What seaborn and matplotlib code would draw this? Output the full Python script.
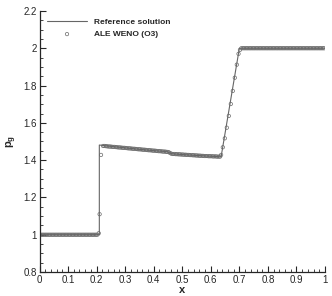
import numpy as np
import pandas as pd
import seaborn as sns
import matplotlib.pyplot as plt
from matplotlib.ticker import MultipleLocator

# reference solution (piecewise)
x_ref = [0.0, 0.2095, 0.2095, 0.25, 0.30, 0.35, 0.40, 0.45, 0.46, 0.50, 0.55, 0.60, 0.636, 0.700, 1.0]
y_ref = [1.0, 1.0, 1.481, 1.474, 1.466, 1.458, 1.451, 1.445, 1.435, 1.430, 1.425, 1.421, 1.418, 2.0, 2.0]

# ALE WENO (O3) cell values
y_left = [1.0] * 41
y_shock = [1.008, 1.11, 1.428]
x_shock = [0.2075, 0.2105, 0.2155]
y_mid1 = [1.476, 1.476, 1.475, 1.474, 1.473, 1.473, 1.472, 1.471, 1.471, 1.470,
          1.469, 1.468, 1.468, 1.467, 1.466, 1.466, 1.465, 1.464, 1.463, 1.463,
          1.462, 1.461, 1.461, 1.460, 1.459, 1.458, 1.458, 1.457, 1.456, 1.456,
          1.455, 1.454, 1.453, 1.453, 1.452, 1.451, 1.451, 1.450, 1.449, 1.448,
          1.448, 1.447, 1.446, 1.446, 1.445, 1.444, 1.443]
y_contact = [1.438, 1.434]
x_contact = [0.4575, 0.4625]
y_mid2 = [1.433, 1.433, 1.432, 1.432, 1.431, 1.431, 1.430, 1.430, 1.429, 1.429,
          1.428, 1.428, 1.427, 1.427, 1.426, 1.426, 1.425, 1.425, 1.424, 1.424,
          1.423, 1.423, 1.422, 1.422, 1.422, 1.421, 1.421, 1.421, 1.420, 1.420,
          1.420, 1.419, 1.419, 1.419]
x_ramp = [0.636, 0.642, 0.649, 0.656, 0.663, 0.670, 0.677, 0.684, 0.691, 0.697, 0.702]
y_ramp = [1.428, 1.469, 1.517, 1.574, 1.637, 1.701, 1.771, 1.842, 1.912, 1.970, 1.991]
y_right = [2.0] * 59

x_num = np.concatenate([np.linspace(0.0025, 0.2025, len(y_left)), x_shock,
                        np.linspace(0.2225, 0.4525, len(y_mid1)), x_contact,
                        np.linspace(0.4675, 0.6325, len(y_mid2)), x_ramp,
                        np.linspace(0.707, 0.997, len(y_right))])
y_num = np.concatenate([y_left, y_shock, y_mid1, y_contact, y_mid2, y_ramp, y_right])

df_ref = pd.DataFrame({"x": x_ref, "p": y_ref})
df_num = pd.DataFrame({"x": x_num, "p": y_num})

sns.set_style("ticks")
plt.rcParams["font.family"] = ["Liberation Sans", "DejaVu Sans"]
plt.rcParams["mathtext.fontset"] = "custom"
plt.rcParams["mathtext.rm"] = "Liberation Sans"
plt.rcParams["mathtext.bf"] = "Liberation Sans:bold"

fig = plt.figure(figsize=(3.32, 2.96), dpi=100)
ax = fig.add_axes([0.119, 0.081, 0.860, 0.882])

sns.lineplot(data=df_ref, x="x", y="p", ax=ax, color="#666666", linewidth=0.8,
             sort=False, estimator=None, label="Reference solution")
sns.scatterplot(data=df_num, x="x", y="p", ax=ax, marker="o", s=6,
                facecolors="none", edgecolors="#6a6a6a", linewidths=0.5,
                label="ALE WENO (O3)")

ax.set_xlim(0, 1)
ax.set_ylim(0.8, 2.2)
ax.xaxis.set_major_locator(MultipleLocator(0.1))
ax.xaxis.set_minor_locator(MultipleLocator(0.02))
ax.yaxis.set_major_locator(MultipleLocator(0.2))
ax.yaxis.set_minor_locator(MultipleLocator(0.05))
ax.xaxis.set_major_formatter(plt.FuncFormatter(lambda v, p: f"{v:g}"))
ax.yaxis.set_major_formatter(plt.FuncFormatter(lambda v, p: f"{v:g}"))
ax.tick_params(which="major", direction="in", length=4, width=0.8, labelsize=7, pad=2)
ax.tick_params(which="minor", direction="in", length=2, width=0.6)
sns.despine(ax=ax)
for s in ["left", "bottom"]:
    ax.spines[s].set_linewidth(0.9)

ax.set_xlabel("x", fontsize=8, fontweight="bold", labelpad=0)
ax.set_ylabel(r"$\mathbf{p}_\mathbf{g}$", fontsize=8, labelpad=3)

ax.legend(loc="upper left", bbox_to_anchor=(0.0, 1.0), frameon=False,
          prop={"weight": "bold", "size": 6}, handlelength=4.8,
          handletextpad=0.8, labelspacing=0.5)

fig.savefig("out.png", dpi=100)
